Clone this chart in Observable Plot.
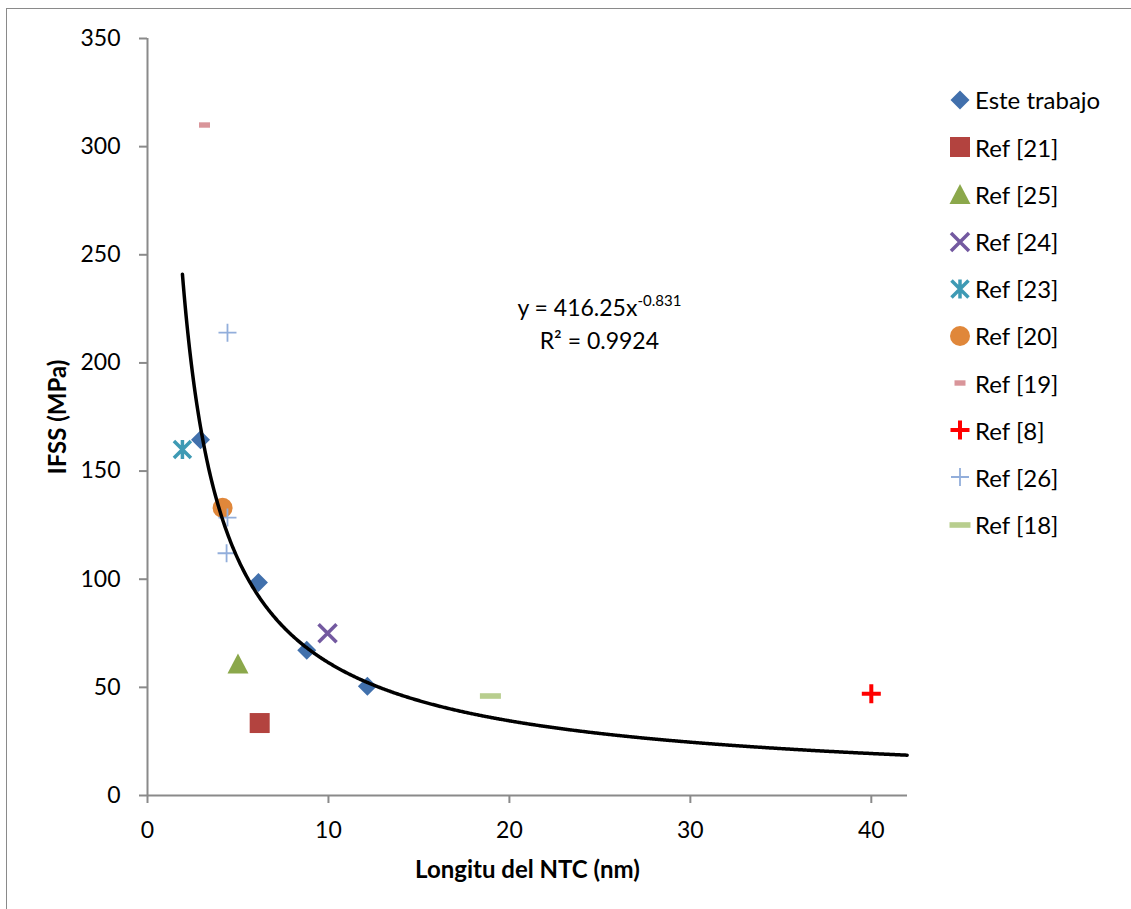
<!DOCTYPE html>
<html><head><meta charset="utf-8">
<script src="https://cdn.jsdelivr.net/npm/d3@7"></script>
<script src="https://cdn.jsdelivr.net/npm/@observablehq/plot@0.6"></script>
<style>
body{margin:0;background:#fff;font-family:Lato,sans-serif;}
#wrap{position:relative;width:1131px;height:909px;overflow:hidden;background:#fff;}
#border{position:absolute;left:6px;top:8px;width:3000px;height:3000px;border-left:1.5px solid #8a8a8a;border-top:1.5px solid #8a8a8a;pointer-events:none;}
#legend{position:absolute;left:948px;top:76.4px;font-size:24px;color:#000;}
.row{display:flex;align-items:center;height:47.2px;}
.row svg{width:24px;height:24px;margin-right:3px;overflow:visible;}
#eq{position:absolute;transform:translate(-50%,-50%);text-align:center;font-size:23px;line-height:33px;white-space:nowrap;color:#000;}
#eq .sup{font-size:15px;vertical-align:10px;}
</style></head>
<body><div id="wrap"></div>
<script>
// ---- data ----
const seriesNames = ["Este trabajo","Ref [21]","Ref [25]","Ref [24]","Ref [23]","Ref [20]","Ref [19]","Ref [8]","Ref [26]","Ref [18]"];
const esteTrabajoX = [2.93, 6.13, 8.8, 12.15];
const esteTrabajoY = [164.5, 98.5, 67.2, 50.5];
const ref21X = [6.2];   const ref21Y = [33.5];
const ref25X = [5.0];   const ref25Y = [61];
const ref24X = [9.95];  const ref24Y = [75];
const ref23X = [1.93];  const ref23Y = [160];
const ref20X = [4.15];  const ref20Y = [133];
const ref19X = [3.15];  const ref19Y = [310];
const ref8X  = [40];    const ref8Y  = [47];
const ref26X = [4.42, 4.42, 4.37]; const ref26Y = [214, 128.5, 112];
const ref18X = [18.95]; const ref18Y = [46];
const xTicks = [0, 10, 20, 30, 40];
const yTicks = [0, 50, 100, 150, 200, 250, 300, 350];
// power trendline shown on the chart: y = 416.25 x^-0.831
const trendA = 416.25, trendB = -0.831;
const trendStart = 1.93, trendEnd = 42;
const eqLine1 = "y = 416.25x", eqExp = "-0.831", eqLine2 = "R² = 0.9924";
const xTitle = "Longitu del NTC (nm)", yTitle = "IFSS (MPa)";

// ---- marker shapes and styles ----
const sym = draw => ({draw});
const shapes = {
  diamond: sym(c => {const h = 9.5; c.moveTo(0,-h); c.lineTo(h,0); c.lineTo(0,h); c.lineTo(-h,0); c.closePath();}),
  square: sym(c => {const h = 10; c.moveTo(-h,-h); c.lineTo(h,-h); c.lineTo(h,h); c.lineTo(-h,h); c.closePath();}),
  triangle: sym(c => {c.moveTo(0,-10); c.lineTo(10.5,10); c.lineTo(-10.5,10); c.closePath();}),
  times: sym(c => {const h = 9; c.moveTo(-h,-h); c.lineTo(h,h); c.moveTo(-h,h); c.lineTo(h,-h);}),
  star: sym(c => {const h = 8.5; c.moveTo(-h,-h); c.lineTo(h,h); c.moveTo(-h,h); c.lineTo(h,-h); c.moveTo(0,-9.5); c.lineTo(0,9.5);}),
  circle: sym(c => {c.moveTo(10,0); c.arc(0,0,10,0,2*Math.PI); c.closePath();}),
  dashShort: sym(c => {c.moveTo(-5.5,-2.7); c.lineTo(5.5,-2.7); c.lineTo(5.5,2.7); c.lineTo(-5.5,2.7); c.closePath();}),
  plusBold: sym(c => {const h = 9.5; c.moveTo(-h,0); c.lineTo(h,0); c.moveTo(0,-h); c.lineTo(0,h);}),
  plusThin: sym(c => {const h = 9; c.moveTo(-h,0); c.lineTo(h,0); c.moveTo(0,-h); c.lineTo(0,h);}),
  dashLong: sym(c => {c.moveTo(-10.5,-2.8); c.lineTo(10.5,-2.8); c.lineTo(10.5,2.8); c.lineTo(-10.5,2.8); c.closePath();})
};
const styles = {
  "Este trabajo": {shape: "diamond", fill: "#4170AC", stroke: "none", sw: 0},
  "Ref [21]": {shape: "square", fill: "#B3433F", stroke: "none", sw: 0},
  "Ref [25]": {shape: "triangle", fill: "#8BA84B", stroke: "none", sw: 0},
  "Ref [24]": {shape: "times", fill: "none", stroke: "#7359A0", sw: 3.5},
  "Ref [23]": {shape: "star", fill: "none", stroke: "#3E9AB4", sw: 3.5},
  "Ref [20]": {shape: "circle", fill: "#E0873A", stroke: "none", sw: 0},
  "Ref [19]": {shape: "dashShort", fill: "#D9959A", stroke: "none", sw: 0},
  "Ref [8]":  {shape: "plusBold", fill: "none", stroke: "#FF0000", sw: 4},
  "Ref [26]": {shape: "plusThin", fill: "none", stroke: "#92AEDB", sw: 1.8},
  "Ref [18]": {shape: "dashLong", fill: "#B8CE8E", stroke: "none", sw: 0}
};
const seriesData = {
  "Este trabajo": [esteTrabajoX, esteTrabajoY],
  "Ref [21]": [ref21X, ref21Y], "Ref [25]": [ref25X, ref25Y], "Ref [24]": [ref24X, ref24Y],
  "Ref [23]": [ref23X, ref23Y], "Ref [20]": [ref20X, ref20Y], "Ref [19]": [ref19X, ref19Y],
  "Ref [8]": [ref8X, ref8Y], "Ref [26]": [ref26X, ref26Y], "Ref [18]": [ref18X, ref18Y]
};

const trendXs = d3.range(trendStart, trendEnd + 1e-9, 0.05);
const axisGray = "#8a8a8a";

const dotMarks = seriesNames.map(name => {
  const [xs, ys] = seriesData[name];
  const st = styles[name];
  return Plot.dot(xs, {x: xs, y: ys, r: 5, symbol: shapes[st.shape], fill: st.fill, stroke: st.stroke, strokeWidth: st.sw});
});

const plot = Plot.plot({
  width: 1131, height: 909,
  marginLeft: 147, marginRight: 224, marginTop: 38, marginBottom: 114,
  style: {fontFamily: "Lato, sans-serif", fontSize: "23px", background: "transparent", color: "#000"},
  x: {domain: [0, 42]},
  y: {domain: [0, 350]},
  marks: [
    Plot.axisX({ticks: xTicks, tickSize: 8, tickPadding: 18, stroke: axisGray, strokeWidth: 2, fill: "#000", fontSize: 23, tickFormat: d => d, label: null}),
    Plot.axisY({ticks: yTicks, tickSize: 8, tickPadding: 19, stroke: axisGray, strokeWidth: 2, fill: "#000", fontSize: 23, tickFormat: d => d, label: null}),
    Plot.ruleY([0], {stroke: axisGray, strokeWidth: 2}),
    Plot.ruleX([0], {stroke: axisGray, strokeWidth: 2}),
    Plot.text([yTitle], {frameAnchor: "left", dx: -89, rotate: -90, textAnchor: "middle", lineAnchor: "middle", fontWeight: "bold", fontSize: 24, fill: "#000"}),
    Plot.text([xTitle], {frameAnchor: "bottom", dy: 75, textAnchor: "middle", lineAnchor: "middle", fontWeight: "bold", fontSize: 24, fill: "#000"}),
    ...dotMarks,
    Plot.line(trendXs, {x: d => d, y: d => trendA * Math.pow(d, trendB), stroke: "#000", strokeWidth: 3.5})
  ]
});

const wrap = document.getElementById("wrap");
wrap.appendChild(plot);
const border = document.createElement("div");
border.id = "border";
wrap.appendChild(border);

// equation annotation placed with the chart's scales
const eqPosX = 25, eqPosY = 219.5;
const eq = document.createElement("div");
eq.id = "eq";
eq.style.left = plot.scale("x").apply(eqPosX) + "px";
eq.style.top = plot.scale("y").apply(eqPosY) + "px";
eq.innerHTML = `${eqLine1}<span class="sup">${eqExp}</span><br>${eqLine2}`;
wrap.appendChild(eq);

// legend
const legend = document.createElement("div");
legend.id = "legend";
for (const name of seriesNames) {
  const st = styles[name];
  const row = document.createElement("div");
  row.className = "row";
  const path = d3.symbol(shapes[st.shape])();
  row.innerHTML = `<svg viewBox="-12 -12 24 24"><path d="${path}" fill="${st.fill}" stroke="${st.stroke}" stroke-width="${st.sw}"/></svg><span>${name}</span>`;
  legend.appendChild(row);
}
wrap.appendChild(legend);
</script>
</body></html>
